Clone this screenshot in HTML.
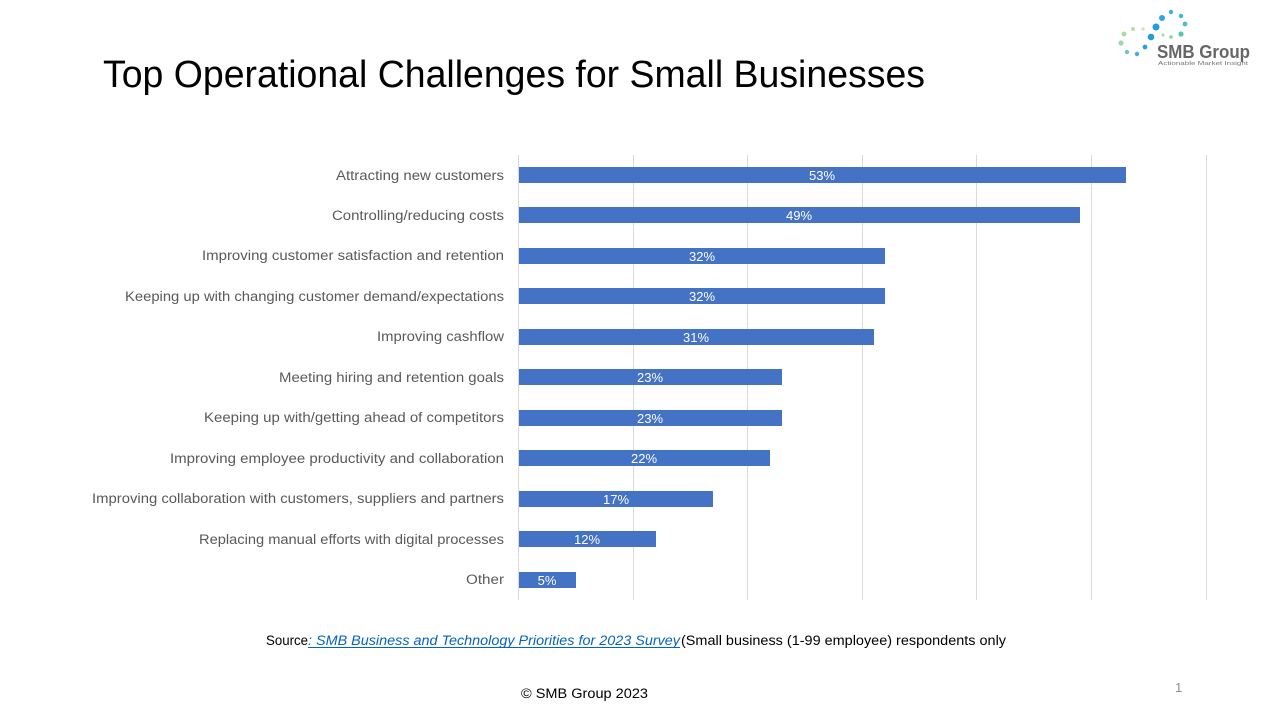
<!DOCTYPE html>
<html><head><meta charset="utf-8"><style>
html,body{margin:0;padding:0;background:#fff;}
svg{display:block;font-family:"Liberation Sans",sans-serif;}
</style></head><body>
<svg width="1280" height="720" viewBox="0 0 1280 720" xmlns="http://www.w3.org/2000/svg">
<text x="103" y="87" font-size="38" fill="#000" textLength="822" lengthAdjust="spacingAndGlyphs">Top Operational Challenges for Small Businesses</text>
<!-- logo -->
<g>
<circle cx="1171" cy="12" r="2.2" fill="#3bb6d8"/>
<circle cx="1181" cy="16" r="2.2" fill="#3bb6d8"/>
<circle cx="1162" cy="18" r="3" fill="#2aa9e0"/>
<circle cx="1156" cy="27" r="3.5" fill="#1e9ee0"/>
<circle cx="1185" cy="24" r="2.4" fill="#4cc2c0"/>
<circle cx="1151" cy="37" r="3.3" fill="#1e9ee0"/>
<circle cx="1163" cy="35" r="1.5" fill="#a8d8a0"/>
<circle cx="1171" cy="37" r="1.8" fill="#8fd0a0"/>
<circle cx="1181" cy="34" r="2.6" fill="#56c4b0"/>
<circle cx="1133" cy="29" r="2" fill="#b8e0a0"/>
<circle cx="1143" cy="29" r="1.6" fill="#c8e8a8"/>
<circle cx="1124" cy="34" r="2.4" fill="#a8dca0"/>
<circle cx="1121" cy="43" r="2.6" fill="#9cd8a8"/>
<circle cx="1127" cy="52" r="2.2" fill="#6cc8b8"/>
<circle cx="1137" cy="54" r="2.2" fill="#3cb0d0"/>
<circle cx="1145" cy="47" r="2.4" fill="#2aa0e0"/>
<text x="1157" y="58" font-size="18" font-weight="bold" fill="#666" textLength="93" lengthAdjust="spacingAndGlyphs">SMB Group</text>
<text x="1158" y="65" font-size="5" fill="#777" textLength="90" lengthAdjust="spacingAndGlyphs">Actionable Market Insight</text>
</g>
<!-- grid -->
<g stroke="#d9d9d9" stroke-width="1">
<line x1="518.5" y1="155" x2="518.5" y2="600"/>
<line x1="633.5" y1="155" x2="633.5" y2="600"/>
<line x1="747.5" y1="155" x2="747.5" y2="600"/>
<line x1="862.5" y1="155" x2="862.5" y2="600"/>
<line x1="976.5" y1="155" x2="976.5" y2="600"/>
<line x1="1091.5" y1="155" x2="1091.5" y2="600"/>
<line x1="1206.5" y1="155" x2="1206.5" y2="600"/>
</g>
<g fill="#4472c4">
<rect x="519" y="167" width="607" height="16"/>
<rect x="519" y="207" width="561" height="16"/>
<rect x="519" y="248" width="366" height="16"/>
<rect x="519" y="288" width="366" height="16"/>
<rect x="519" y="329" width="355" height="16"/>
<rect x="519" y="369" width="263" height="16"/>
<rect x="519" y="410" width="263" height="16"/>
<rect x="519" y="450" width="251" height="16"/>
<rect x="519" y="491" width="194" height="16"/>
<rect x="519" y="531" width="137" height="16"/>
<rect x="519" y="572" width="57" height="16"/>
</g>
<g fill="#fff" font-size="13" text-anchor="middle">
<text x="822" y="180">53%</text>
<text x="799" y="220">49%</text>
<text x="702" y="261">32%</text>
<text x="702" y="301">32%</text>
<text x="696" y="342">31%</text>
<text x="650" y="382">23%</text>
<text x="650" y="423">23%</text>
<text x="644" y="463">22%</text>
<text x="616" y="504">17%</text>
<text x="587" y="544">12%</text>
<text x="547" y="585">5%</text>
</g>
<g fill="#595959" font-size="13.5" text-anchor="end">
<text x="504" y="180" textLength="168" lengthAdjust="spacingAndGlyphs">Attracting new customers</text>
<text x="504" y="220" textLength="172" lengthAdjust="spacingAndGlyphs">Controlling/reducing costs</text>
<text x="504" y="260" textLength="302" lengthAdjust="spacingAndGlyphs">Improving customer satisfaction and retention</text>
<text x="504" y="301" textLength="379" lengthAdjust="spacingAndGlyphs">Keeping up with changing customer demand/expectations</text>
<text x="504" y="341" textLength="127" lengthAdjust="spacingAndGlyphs">Improving cashflow</text>
<text x="504" y="382" textLength="225" lengthAdjust="spacingAndGlyphs">Meeting hiring and retention goals</text>
<text x="504" y="422" textLength="300" lengthAdjust="spacingAndGlyphs">Keeping up with/getting ahead of competitors</text>
<text x="504" y="463" textLength="334" lengthAdjust="spacingAndGlyphs">Improving employee productivity and collaboration</text>
<text x="504" y="503" textLength="412" lengthAdjust="spacingAndGlyphs">Improving collaboration with customers, suppliers and partners</text>
<text x="504" y="544" textLength="305" lengthAdjust="spacingAndGlyphs">Replacing manual efforts with digital processes</text>
<text x="504" y="584" textLength="38" lengthAdjust="spacingAndGlyphs">Other</text>
</g>
<text x="266" y="645" font-size="13.5" fill="#000" textLength="42" lengthAdjust="spacingAndGlyphs">Source</text>
<text x="308" y="645" font-size="13.5" fill="#0563c1" font-style="italic" textLength="372" lengthAdjust="spacingAndGlyphs">: SMB Business and Technology Priorities for 2023 Survey </text>
<line x1="308" y1="647.5" x2="680" y2="647.5" stroke="#0563c1" stroke-width="1"/>
<text x="681" y="645" font-size="13.5" fill="#000" textLength="325" lengthAdjust="spacingAndGlyphs">(Small business (1-99 employee) respondents only</text>
<text x="521" y="698" font-size="13.5" fill="#000" textLength="127" lengthAdjust="spacingAndGlyphs">© SMB Group  2023</text>
<text x="1175" y="692" font-size="13" fill="#8c8c8c">1</text>
</svg>
</body></html>
